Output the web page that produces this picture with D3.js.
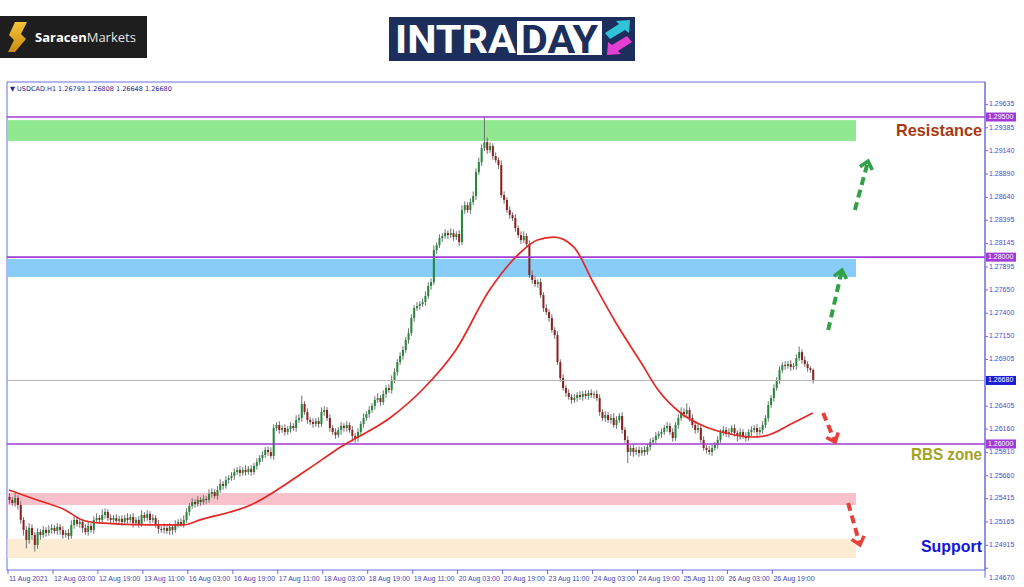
<!DOCTYPE html>
<html><head><meta charset="utf-8">
<script src="https://cdn.jsdelivr.net/npm/d3@7"></script>
<style>body{margin:0;background:#fff;} svg{display:block;}</style>
</head><body>
<svg id="c" width="1024" height="587"></svg>
<script>
// ---------------- DATA ----------------
const symbolInfo = "USDCAD.H1  1.26793 1.26808 1.26648 1.26680";
const firstOpen = 1.25433;
const closes = [
1.25401,1.25369,1.25422,1.25347,1.25187,1.25080,1.24973,1.25101,1.25026,1.24919,
1.25058,1.25026,1.25080,1.25048,1.25080,1.25101,1.25069,1.25112,1.25080,1.25026,
1.25048,1.25016,1.25133,1.25187,1.25144,1.25165,1.25101,1.25058,1.25123,1.25080,
1.25187,1.25208,1.25187,1.25240,1.25272,1.25208,1.25187,1.25208,1.25176,1.25198,
1.25165,1.25208,1.25187,1.25219,1.25155,1.25187,1.25144,1.25240,1.25208,1.25251,
1.25187,1.25208,1.25144,1.25091,1.25080,1.25101,1.25069,1.25112,1.25080,1.25144,
1.25165,1.25144,1.25187,1.25272,1.25337,1.25379,1.25358,1.25401,1.25379,1.25412,
1.25401,1.25465,1.25486,1.25444,1.25508,1.25572,1.25551,1.25615,1.25636,1.25658,
1.25700,1.25722,1.25690,1.25722,1.25700,1.25733,1.25700,1.25765,1.25807,1.25850,
1.25882,1.25936,1.25914,1.25872,1.26171,1.26203,1.26150,1.26171,1.26128,1.26161,
1.26193,1.26171,1.26257,1.26278,1.26428,1.26342,1.26257,1.26235,1.26214,1.26246,
1.26214,1.26342,1.26364,1.26278,1.26171,1.26128,1.26096,1.26150,1.26193,1.26171,
1.26203,1.26150,1.26086,1.26064,1.26128,1.26214,1.26278,1.26321,1.26364,1.26407,
1.26471,1.26492,1.26449,1.26535,1.26599,1.26578,1.26685,1.26770,1.26877,1.26942,
1.27006,1.27113,1.27188,1.27348,1.27455,1.27477,1.27498,1.27519,1.27584,1.27691,
1.27733,1.28076,1.28129,1.28204,1.28226,1.28258,1.28236,1.28258,1.28215,1.28247,
1.28161,1.28504,1.28557,1.28504,1.28589,1.28654,1.28910,1.29017,1.29167,1.29231,
1.29146,1.29189,1.29082,1.29039,1.28985,1.28664,1.28611,1.28504,1.28450,1.28418,
1.28311,1.28236,1.28183,1.28226,1.28140,1.27808,1.27755,1.27712,1.27733,1.27594,
1.27455,1.27412,1.27348,1.27220,1.27166,1.26877,1.26706,1.26599,1.26546,1.26503,
1.26471,1.26492,1.26524,1.26503,1.26535,1.26514,1.26546,1.26524,1.26535,1.26492,
1.26342,1.26278,1.26310,1.26257,1.26278,1.26203,1.26257,1.26300,1.26150,1.26043,
1.25914,1.25957,1.25914,1.25936,1.25904,1.25936,1.25914,1.25968,1.26021,1.26043,
1.26086,1.26107,1.26128,1.26171,1.26193,1.26128,1.26064,1.26203,1.26278,1.26342,
1.26321,1.26364,1.26278,1.26203,1.26150,1.26171,1.26043,1.25957,1.25936,1.25914,
1.25957,1.25989,1.26043,1.26128,1.26150,1.26107,1.26128,1.26171,1.26118,1.26086,
1.26128,1.26086,1.26064,1.26128,1.26150,1.26171,1.26128,1.26150,1.26203,1.26278,
1.26417,1.26492,1.26599,1.26685,1.26792,1.26845,1.26835,1.26856,1.26824,1.26835,
1.26920,1.26984,1.26899,1.26856,1.26813,1.26793,1.26680];
// wick lengths in pips above body top / below body bottom
const wickUp = [
4,3,5,3,4,3,4,5,4,3, 4,3,4,3,5,4,3,4,3,4, 3,4,5,4,3,4,3,4,5,3, 4,5,3,6,4,3,4,3,4,3,
4,3,5,3,4,3,4,5,3,4, 3,4,3,4,3,5,3,4,3,4, 3,4,5,4,3,4,3,4,3,4, 3,5,4,3,4,5,3,4,3,4,
4,3,4,3,5,3,4,3,4,3, 4,3,4,5,4,3,4,3,4,3, 4,3,5,4,9,3,4,3,4,3, 4,5,4,3,4,3,4,3,4,3,
4,3,4,3,4,3,5,3,4,3, 4,5,3,4,3,4,5,4,3,4, 4,3,5,4,3,4,3,4,5,4, 4,5,3,4,3,4,3,5,4,3,
4,5,4,3,4,5,4,5,4,27, 5,4,3,4,3,5,4,3,4,3, 4,3,4,5,3,4,5,4,3,4, 3,4,3,4,3,4,3,4,3,4,
3,4,3,4,3,4,3,4,3,4, 4,3,4,3,4,5,4,3,4,3, 4,3,4,3,4,3,4,3,4,3, 4,3,4,3,4,3,4,3,4,5,
4,7,3,4,3,4,3,4,3,4, 4,3,4,3,4,3,4,3,4,3, 4,3,4,3,4,3,4,3,4,3, 4,3,4,3,4,3,4,3,4,3,
4,6,3,4,3,2,1.5];
const wickDown = [
4,3,4,5,4,6,9,4,5,7, 4,5,3,4,3,4,3,4,5,4, 3,4,3,4,3,4,5,3,4,3, 4,3,4,3,4,3,4,3,4,3,
4,3,4,3,5,3,4,3,4,3, 4,3,4,5,3,4,3,4,5,3, 4,3,4,3,4,3,4,3,4,3, 4,3,4,3,4,3,4,3,4,3,
4,3,4,3,4,3,4,3,4,3, 4,3,4,3,4,3,4,3,4,3, 4,3,4,3,4,3,4,3,4,3, 4,3,4,3,4,3,4,3,5,4,
4,3,6,5,4,3,4,3,4,3, 4,3,4,3,4,3,4,3,4,3, 4,3,4,3,4,3,4,3,4,3, 4,3,4,3,4,3,4,3,4,3,
4,3,4,3,4,3,4,3,4,3, 4,3,4,3,4,3,4,3,4,3, 4,3,4,3,4,3,4,3,4,3, 4,3,4,3,4,3,4,3,4,3,
4,3,4,3,4,3,4,3,4,3, 4,3,4,3,4,3,4,3,4,3, 12,4,5,3,4,3,4,3,4,3, 4,3,4,3,4,3,4,3,4,3,
4,3,4,3,4,3,4,3,4,3, 4,3,4,3,4,3,4,3,4,6, 4,3,4,3,4,3,4,3,4,3, 4,3,4,3,4,3,4,3,4,3,
4,3,4,3,4,3,3.2];
// moving average: [bar index, price]
const maPoints = [
[0,1.25508],[10,1.25401],[20,1.25294],[26,1.25187],[32,1.25155],[50,1.25133],[62,1.25133],
[68,1.25187],[86,1.25347],[106,1.25722],[118,1.25968],[136,1.26289],[147,1.26578],
[159,1.27006],[171,1.27648],[182,1.28050],[188,1.28183],[194,1.28215],[201,1.28108],
[208,1.27723],[216,1.27295],[225,1.26867],[231,1.26578],[239,1.26332],[248,1.26182],
[255,1.26118],[264,1.26075],[269,1.26086],[279,1.26225],[286,1.26332]];
const priceTicks = [1.29635,1.29385,1.29140,1.28890,1.28640,1.28395,1.28145,1.27895,1.27650,
1.27400,1.27150,1.26905,1.26405,1.26160,1.25910,1.25660,1.25415,1.25165,1.24915,1.24670];
const levelLines = [1.29500, 1.28000, 1.26000];
const currentPrice = 1.26680;
const timeLabels = ["11 Aug 2021","12 Aug 03:00","12 Aug 19:00","13 Aug 11:00","16 Aug 03:00",
"16 Aug 19:00","17 Aug 11:00","18 Aug 03:00","18 Aug 19:00","19 Aug 11:00","20 Aug 03:00",
"20 Aug 19:00","23 Aug 11:00","24 Aug 03:00","24 Aug 19:00","25 Aug 11:00","26 Aug 03:00","26 Aug 19:00"];
const timeLabelBars = [0,16,32,48,64,80,96,112,128,144,160,176,192,208,224,240,256,272];
const zoneNames = ["Resistance zone","Upper zone","Lower zone","Support zone"];
const zoneTops = [1.29467, 1.27980, 1.25475, 1.24983];
const zoneBottoms = [1.29243, 1.27788, 1.25347, 1.24779];
const zoneEndBar = 301.4;
// forecast arrows: [tailBar, tailPrice, tipBar, tipPrice]
const upArrows = [[301,1.28504,305.7,1.29029],[291.5,1.27220,296.4,1.27862]];
const downArrows = [[289.7,1.26331,294,1.26021],[298.6,1.25368,302.8,1.24919]];
const annotations = ["Resistance","RBS zone","Support"];
const annotationPrices = [1.29340, 1.25872, 1.24887];

// ---------------- LAYOUT ----------------
const svg = d3.select("#c");
const L = 7, R = 985, T = 82, B = 570;
const x = d3.scaleLinear().domain([0, 347.3]).range([9, 985]);
const y = d3.scaleLinear().domain([1.24651, 1.29875]).range([B, T]);
const frameColor = "#6d6de0";
const purple = "#a23bd6";

// logos
const sar = svg.append("g");
sar.append("rect").attr("x",0).attr("y",16).attr("width",147).attr("height",42).attr("fill","#1e1e1e");
const defs = svg.append("defs");
const gg = defs.append("linearGradient").attr("id","gold").attr("x1","0").attr("y1","0").attr("x2","0").attr("y2","1");
gg.append("stop").attr("offset","0").attr("stop-color","#f4c53a");
gg.append("stop").attr("offset","1").attr("stop-color","#c98a12");
sar.append("path").attr("d","M15,22 L27,22 L21,34 L26,39 L15,52 L8,52 L14,40 L9,35 Z").attr("fill","url(#gold)");
const st = sar.append("text").attr("x",35).attr("y",42).attr("font-family","Open Sans, Lato, sans-serif")
  .attr("font-size",13).attr("fill","#ffffff");
st.append("tspan").attr("font-weight","bold").text("Saracen");
st.append("tspan").attr("fill","#e6e6e6").text("Markets");

const ia = svg.append("g");
ia.append("rect").attr("x",389).attr("y",17).attr("width",246).attr("height",44).attr("fill","#1c2f5c");
ia.append("text").attr("x",395).attr("y",53).attr("font-family","Roboto, Liberation Sans, sans-serif")
  .attr("font-weight","bold").attr("font-size",38).attr("fill","#fff")
  .attr("textLength",121).attr("lengthAdjust","spacingAndGlyphs").text("INTRA");
ia.append("rect").attr("x",517).attr("y",21).attr("width",85).attr("height",34).attr("fill","#fff");
ia.append("text").attr("x",521).attr("y",53).attr("font-family","Roboto, Liberation Sans, sans-serif")
  .attr("font-weight","bold").attr("font-size",38).attr("fill","#1c2f5c")
  .attr("textLength",77).attr("lengthAdjust","spacingAndGlyphs").text("DAY");
ia.append("path").attr("d","M605,33 L619,24 L616,21 L630,20 L629,33 L625,30 L610,39 Z").attr("fill","#2fc3d8");
ia.append("path").attr("d","M632,42 L618,51 L621,54 L607,55 L608,42 L612,45 L627,36 Z").attr("fill","#e43fd2");

// frame
svg.append("rect").attr("x",L).attr("y",T).attr("width",R-L).attr("height",B-T)
  .attr("fill","#fff").attr("stroke",frameColor).attr("stroke-width",1);

// zones
const zoneColors = ["#90e890","#87cdf7","#f9c2cb","#fdebd3"];
svg.append("g").selectAll("rect").data(zoneNames).join("rect")
  .attr("x", x(-0.5)).attr("width", x(zoneEndBar) - x(-0.5))
  .attr("y", (d,i)=>y(zoneTops[i])).attr("height",(d,i)=>y(zoneBottoms[i])-y(zoneTops[i]))
  .attr("fill",(d,i)=>zoneColors[i]);

// candles
const bars = closes.map((c,i)=>{
  const o = i===0 ? firstOpen : closes[i-1];
  return {i, o, c, h: Math.max(o,c)+wickUp[i]*1e-4, l: Math.min(o,c)-wickDown[i]*1e-4};
});
const cg = svg.append("g");
cg.selectAll("line").data(bars).join("line")
  .attr("x1",d=>x(d.i)+0.5).attr("x2",d=>x(d.i)+0.5)
  .attr("y1",d=>y(d.h)).attr("y2",d=>y(d.l))
  .attr("stroke","#707070").attr("stroke-width",1);
cg.selectAll("rect").data(bars).join("rect")
  .attr("x",d=>x(d.i)-0.5).attr("width",2)
  .attr("y",d=>y(Math.max(d.o,d.c))).attr("height",d=>Math.max(1,Math.abs(y(d.o)-y(d.c))))
  .attr("fill",d=>d.c>=d.o?"#23883a":"#8e1f1f");

// level lines
svg.append("g").selectAll("line").data(levelLines).join("line")
  .attr("x1",L).attr("x2",R).attr("y1",d=>y(d)).attr("y2",d=>y(d))
  .attr("stroke",purple).attr("stroke-width",1.6);
svg.append("line").attr("x1",L).attr("x2",R).attr("y1",y(currentPrice)).attr("y2",y(currentPrice))
  .attr("stroke","#b4b4b4").attr("stroke-width",1);

// moving average
svg.append("path").datum(maPoints)
  .attr("d", d3.line().x(d=>x(d[0])).y(d=>y(d[1])).curve(d3.curveMonotoneX))
  .attr("fill","none").attr("stroke","#e42727").attr("stroke-width",1.7);

// arrows
function arrow(a, color){
  const x1=x(a[0]), y1=y(a[1]), x2=x(a[2]), y2=y(a[3]);
  const g = svg.append("g");
  g.append("line").attr("x1",x1).attr("y1",y1).attr("x2",x2).attr("y2",y2)
    .attr("stroke",color).attr("stroke-width",4).attr("stroke-dasharray","8,5");
  const ang = Math.atan2(y2-y1,x2-x1), len=10, sp=0.7;
  const p1=[x2-len*Math.cos(ang-sp), y2-len*Math.sin(ang-sp)];
  const p2=[x2-len*Math.cos(ang+sp), y2-len*Math.sin(ang+sp)];
  g.append("path").attr("d",`M${p1}L${x2},${y2}L${p2}`).attr("fill","none")
    .attr("stroke",color).attr("stroke-width",3.5).attr("stroke-linejoin","miter");
}
upArrows.forEach(a=>arrow(a,"#31a046"));
downArrows.forEach(a=>arrow(a,"#e6403a"));

// annotations
const annColors = ["#a8380e","#a3a21f","#1414dc"];
const annWidths = [86, 71, 61];
svg.append("g").selectAll("text").data(annotations).join("text")
  .attr("x",(d,i)=>982-annWidths[i]).attr("y",(d,i)=>y(annotationPrices[i]))
  .attr("dominant-baseline","middle")
  .attr("font-family","Liberation Sans, Arial, sans-serif").attr("font-weight","bold").attr("font-size",17)
  .attr("fill",(d,i)=>annColors[i]).attr("textLength",(d,i)=>annWidths[i]).attr("lengthAdjust","spacingAndGlyphs")
  .text(d=>d);

// header
svg.append("text").attr("x",10).attr("y",89).attr("dominant-baseline","middle")
  .attr("font-family","DejaVu Sans, sans-serif").attr("font-size",6.5).attr("fill","#25258f")
  .text("\u25BC " + symbolInfo);

// y axis
svg.append("line").attr("x1",R).attr("x2",R).attr("y1",T).attr("y2",B+8).attr("stroke",frameColor);
const ya = svg.append("g");
ya.selectAll("line").data(priceTicks).join("line")
  .attr("x1",R).attr("x2",R+3).attr("y1",d=>Math.min(y(d),B+8)).attr("y2",d=>Math.min(y(d),B+8))
  .attr("stroke",frameColor);
ya.selectAll("text").data(priceTicks).join("text")
  .attr("x",R+4).attr("y",d=> y(d) > B-4 ? B+8 : y(d)).attr("dominant-baseline","middle")
  .attr("font-family","Liberation Sans, Arial, sans-serif").attr("font-size",7).attr("fill","#4b4bd2")
  .text(d=>d.toFixed(5));
const hl = levelLines.map(v=>({v,c:purple})).concat([{v:currentPrice,c:"#1b1bd8"}]);
const hg = svg.append("g").selectAll("g").data(hl).join("g");
hg.append("rect").attr("x",R+1).attr("y",d=>y(d.v)-4.5).attr("width",30).attr("height",9).attr("fill",d=>d.c);
hg.append("text").attr("x",R+3).attr("y",d=>y(d.v)).attr("dominant-baseline","middle")
  .attr("font-family","Liberation Sans, Arial, sans-serif").attr("font-size",7).attr("fill","#fff")
  .text(d=>d.v.toFixed(5));

// x axis
const xa = svg.append("g");
xa.selectAll("line").data(timeLabelBars).join("line")
  .attr("x1",d=>x(d)-1).attr("x2",d=>x(d)-1).attr("y1",B).attr("y2",B+4).attr("stroke",frameColor);
xa.selectAll("text").data(timeLabels).join("text")
  .attr("x",(d,i)=>x(timeLabelBars[i])).attr("y",579).attr("dominant-baseline","middle")
  .attr("font-family","Liberation Sans, Arial, sans-serif").attr("font-size",7).attr("fill","#4545b5")
  .text(d=>d);
</script>
</body></html>
